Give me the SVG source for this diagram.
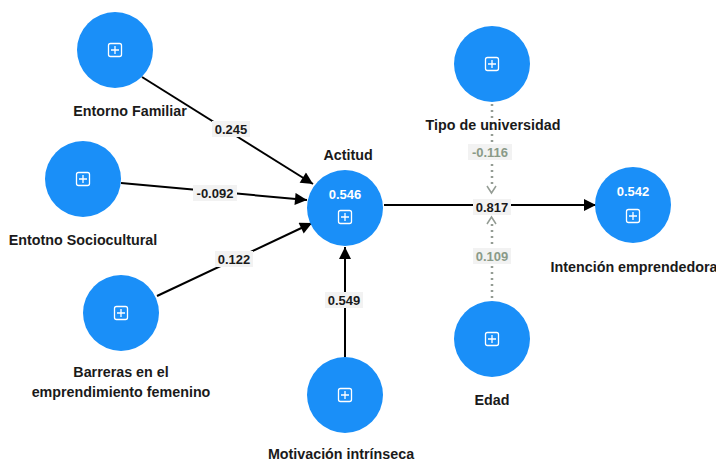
<svg xmlns="http://www.w3.org/2000/svg" width="716" height="462" viewBox="0 0 716 462">
<defs>
<style>
.n{fill:#1a8ff8;}
.t{font-family:"Liberation Sans",Arial,sans-serif;font-weight:bold;font-size:14.3px;fill:#1a1a1a;text-anchor:middle;}
.v{font-family:"Liberation Sans",Arial,sans-serif;font-weight:bold;font-size:13px;fill:#ffffff;text-anchor:middle;}
.e{stroke:#000;stroke-width:2;fill:none;}
.d{stroke:#949c94;stroke-width:2.5;fill:none;stroke-dasharray:2 4;}
.lb{fill:#f2f2f2;}
.lt{font-family:"Liberation Sans",Arial,sans-serif;font-weight:bold;font-size:13px;fill:#1a1a1a;text-anchor:middle;}
.lg{font-family:"Liberation Sans",Arial,sans-serif;font-weight:bold;font-size:13px;fill:#8a9a88;text-anchor:middle;}
.ic{fill:none;stroke:#fff;stroke-width:1.3;}
</style>
<marker id="ah" viewBox="0 0 10 10" refX="10" refY="5" markerWidth="6.5" markerHeight="6" markerUnits="strokeWidth" orient="auto">
<path d="M0,0 L10,5 L0,10 z" fill="#000"/>
</marker>
<g id="plus"><rect x="-6.5" y="-6.5" width="13" height="13" rx="2" class="ic"/><path d="M-4,0 H4 M0,-4 V4" class="ic"/></g>
</defs>
<g id="connectors">
<line class="e" x1="142" y1="77" x2="313" y2="184" marker-end="url(#ah)"/>
<line class="e" x1="121" y1="183" x2="307" y2="200" marker-end="url(#ah)"/>
<line class="e" x1="157" y1="296" x2="312" y2="223" marker-end="url(#ah)"/>
<line class="e" x1="345" y1="357" x2="345" y2="247" marker-end="url(#ah)"/>
<line class="e" x1="384" y1="205" x2="596" y2="205" marker-end="url(#ah)"/>
<line class="d" x1="492" y1="104" x2="492" y2="188"/>
<path d="M487,186 L491.5,193 L496,186" fill="none" stroke="#949c94" stroke-width="1.5"/>
<line class="d" x1="492" y1="298" x2="492" y2="224"/>
<path d="M487,224 L491.5,217 L496,224" fill="none" stroke="#949c94" stroke-width="1.5"/>
<rect class="lb" x="212" y="121" width="38" height="16"/><text class="lt" x="231" y="134">0.245</text>
<rect class="lb" x="193" y="185" width="44" height="16"/><text class="lt" x="215" y="198">-0.092</text>
<rect class="lb" x="215" y="251" width="38" height="16"/><text class="lt" x="234" y="264">0.122</text>
<rect class="lb" x="325" y="292" width="38" height="16"/><text class="lt" x="344" y="305">0.549</text>
<rect class="lb" x="473" y="199" width="38" height="16"/><text class="lt" x="492" y="212">0.817</text>
<rect class="lb" x="468" y="144" width="44" height="16"/><text class="lg" x="490" y="157">-0.116</text>
<rect class="lb" x="473" y="248" width="38" height="16"/><text class="lg" x="492" y="261">0.109</text>
</g>
<g id="entorno-familiar"><circle class="n" cx="115" cy="50" r="38"/><use href="#plus" x="115" y="50"/><text class="t" x="130" y="116">Entorno Familiar</text></g>
<g id="entotno-sociocultural"><circle class="n" cx="83" cy="179" r="38"/><use href="#plus" x="83" y="179"/><text class="t" x="83" y="245">Entotno Sociocultural</text></g>
<g id="barreras"><circle class="n" cx="121" cy="313" r="38"/><use href="#plus" x="121" y="313"/><text class="t" x="121" y="377">Barreras en el</text><text class="t" x="121" y="397">emprendimiento femenino</text></g>
<g id="actitud"><circle class="n" cx="345" cy="208" r="38"/><text class="v" x="345" y="199">0.546</text><use href="#plus" x="345" y="217"/><text class="t" x="348" y="160">Actitud</text></g>
<g id="motivacion"><circle class="n" cx="345" cy="395" r="38"/><use href="#plus" x="345" y="395"/><text class="t" x="341" y="459">Motivación intrínseca</text></g>
<g id="tipo-universidad"><circle class="n" cx="492" cy="64" r="38"/><use href="#plus" x="492" y="64"/><text class="t" x="493" y="130">Tipo de universidad</text></g>
<g id="edad"><circle class="n" cx="492" cy="339" r="38"/><use href="#plus" x="492" y="339"/><text class="t" x="492" y="405">Edad</text></g>
<g id="intencion"><circle class="n" cx="633" cy="205" r="38"/><text class="v" x="633" y="196">0.542</text><use href="#plus" x="633" y="216"/><text class="t" x="634" y="272">Intención emprendedora</text></g>
</svg>
